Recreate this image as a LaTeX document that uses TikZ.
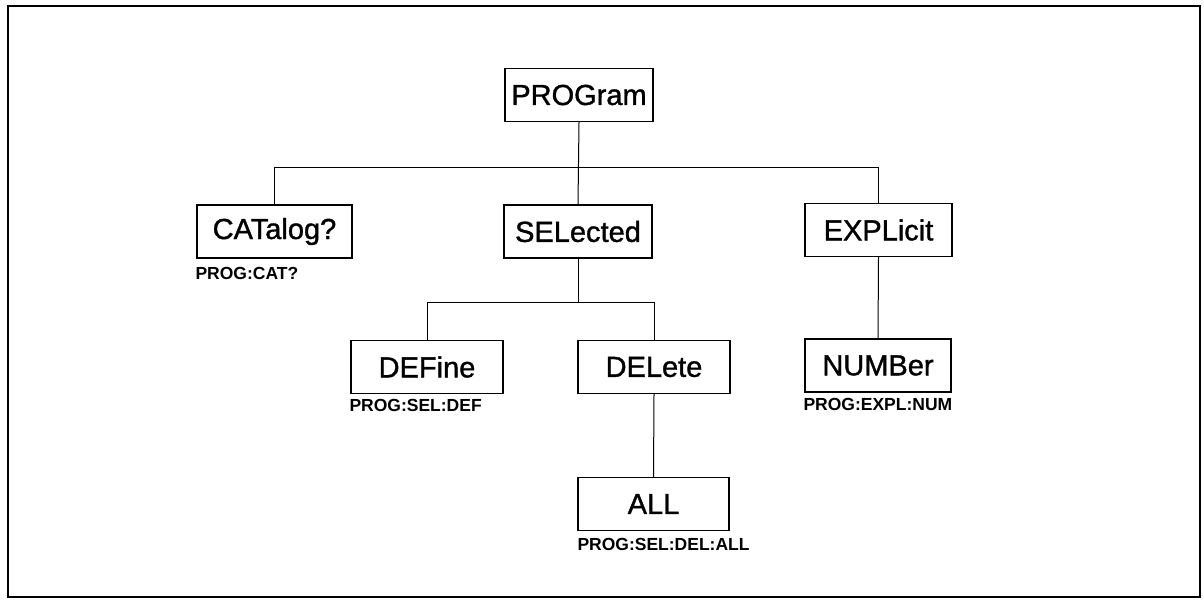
\documentclass[tikz,border=0pt]{standalone}
\usepackage{fontspec}
\setmainfont{Liberation Sans}
\newfontfamily\boxfont[FakeBold=1.2]{Liberation Sans}
\begin{document}
\begin{tikzpicture}[x=1pt,y=-1pt,
  cmdbox/.style={draw, line width=1.4pt, minimum height=53pt, inner sep=0pt,
    font=\boxfont\fontsize{29}{32}\selectfont},
  path/.style={anchor=base west, inner sep=0pt, font=\bfseries\fontsize{17.5}{20}\selectfont},
  link/.style={line width=1pt}]
\useasboundingbox (0,0) rectangle (1204,600);
\draw[line width=2pt] (8,6) rectangle (1200,597);
\node[cmdbox, minimum width=148pt] (prog) at (579,95) {PROGram};
\node[cmdbox, minimum width=155pt] (cat) at (274.5,231.5) {CATalog?};
\node[cmdbox, minimum width=148pt] (sel) at (578,231.5) {SELected};
\node[cmdbox, minimum width=147pt] (expl) at (878.5,230) {EXPLicit};
\node[cmdbox, minimum width=152pt] (def) at (427,367) {DEFine};
\node[cmdbox, minimum width=152pt] (del) at (654,367) {DELete};
\node[cmdbox, minimum width=146pt] (num) at (878,365.5) {NUMBer};
\node[cmdbox, minimum width=151pt] (all) at (653.5,504) {ALL};
\coordinate (bus1) at (579,167);
\coordinate (bus2) at (578,302);
\draw[link] (prog.south) -- (sel.north);
\draw[link] (cat.north) -- (cat.north |- bus1) -- (expl.north |- bus1) -- (expl.north);
\draw[link] (def.north) -- (def.north |- bus2) -- (del.north |- bus2) -- (del.north);
\draw[link] (sel.south) -- (sel.south |- bus2);
\draw[link] (del.south) -- (all.north);
\draw[link] (expl.south) -- (num.north);
\node[path] (lcat) at ([shift={(-1,21)}]cat.south west) {PROG:CAT?};
\node[path] (ldef) at ([shift={(-1,17)}]def.south west) {PROG:SEL:DEF};
\node[path] (lnum) at ([shift={(-1,18)}]num.south west) {PROG:EXPL:NUM};
\node[path] (lall) at ([shift={(0,19)}]all.south west) {PROG:SEL:DEL:ALL};
\end{tikzpicture}
\end{document}
